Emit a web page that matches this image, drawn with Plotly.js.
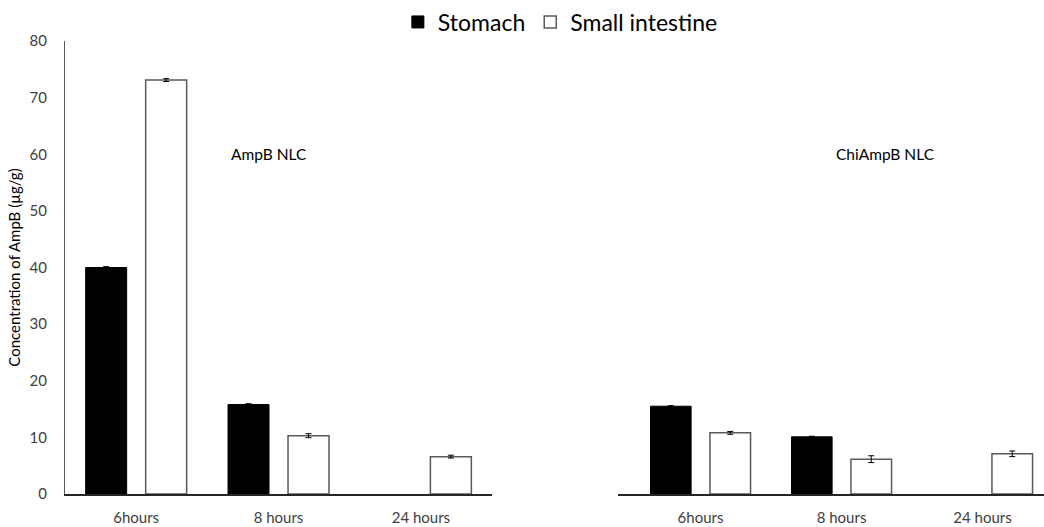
<!DOCTYPE html>
<html>
<head>
<meta charset="utf-8">
<script src="https://cdn.plot.ly/plotly-3.0.1.min.js"></script>
<style>html,body{margin:0;padding:0;background:#fff;}#chart{width:1044px;height:527px;}</style>
</head>
<body>
<div id="chart"></div>
<script>
const categories = ['6hours', '8 hours', '24 hours'];
const seriesNames = ['Stomach', 'Small intestine'];
const groupLabels = ['AmpB NLC', 'ChiAmpB NLC'];
const ampbStomach = [40.0, 15.8, null];
const ampbStomachErr = [0.15, 0.15, 0];
const ampbIntestine = [73.1, 10.3, 6.6];
const ampbIntestineErr = [0.25, 0.35, 0.25];
const chiStomach = [15.5, 10.1, null];
const chiStomachErr = [0.1, 0.1, 0];
const chiIntestine = [10.8, 6.15, 7.1];
const chiIntestineErr = [0.25, 0.6, 0.5];
const yTicks = [0, 10, 20, 30, 40, 50, 60, 70, 80];

const FONT = 'Lato, "Noto Sans", sans-serif';
const stomachStyle = {color: '#000000', line: {color: '#000000', width: 1}};
const intestineStyle = {color: '#ffffff', line: {color: '#595959', width: 1.5}};
const errStyle = {type: 'data', visible: true, color: '#000000', thickness: 1, width: 3};

function bar(name, y, err, marker, xa, showlegend) {
  return {
    type: 'bar', name: name, x: categories, y: y,
    error_y: Object.assign({array: err}, errStyle),
    marker: marker, xaxis: xa, yaxis: 'y',
    showlegend: showlegend, legendgroup: name, hoverinfo: 'x+y+name'
  };
}

const data = [
  bar(seriesNames[0], ampbStomach, ampbStomachErr, stomachStyle, 'x', true),
  bar(seriesNames[1], ampbIntestine, ampbIntestineErr, intestineStyle, 'x', true),
  bar(seriesNames[0], chiStomach, chiStomachErr, stomachStyle, 'x2', false),
  bar(seriesNames[1], chiIntestine, chiIntestineErr, intestineStyle, 'x2', false)
];

const xCommon = {
  type: 'category', showline: true, linecolor: '#262626', linewidth: 1.5,
  ticks: '', showgrid: false, zeroline: false, anchor: 'y',
  tickfont: {family: FONT, size: 15, color: '#404040'}, ticklabelstandoff: 9,
  fixedrange: true
};

const layout = {
  width: 1044, height: 527,
  margin: {l: 65, r: 0, t: 39, b: 33, pad: 0},
  paper_bgcolor: '#ffffff', plot_bgcolor: '#ffffff',
  font: {family: FONT, color: '#404040'},
  barmode: 'group', bargap: 0.157, bargroupgap: 0.317,
  xaxis: Object.assign({}, xCommon, {domain: [0, 0.4362], range: [-0.5, 2.5]}),
  xaxis2: Object.assign({}, xCommon, {domain: [0.5649, 1], range: [-0.585, 2.436]}),
  yaxis: {
    range: [0, 80], tickvals: yTicks, ticktext: yTicks.map(String),
    showline: true, linecolor: '#595959', linewidth: 1,
    ticks: '', showgrid: false, zeroline: false, ticklabelstandoff: 14,
    tickfont: {family: FONT, size: 15, color: '#404040'},
    title: {text: 'Concentration of AmpB (µg/g)', font: {family: FONT, size: 15, color: '#000000'}, standoff: 5},
    fixedrange: true
  },
  showlegend: true,
  legend: {
    orientation: 'h', x: 0.506, xanchor: 'center', y: 1.042, yanchor: 'middle',
    font: {family: FONT, size: 23, color: '#000000'}, itemwidth: 30,
    traceorder: 'normal', bgcolor: 'rgba(0,0,0,0)'
  },
  annotations: [
    {text: groupLabels[0], xref: 'paper', yref: 'y', x: 0.2084, y: 60, showarrow: false,
     font: {family: FONT, size: 15.5, color: '#000000'}, xanchor: 'center', yanchor: 'middle'},
    {text: groupLabels[1], xref: 'paper', yref: 'y', x: 0.8386, y: 60, showarrow: false,
     font: {family: FONT, size: 15.5, color: '#000000'}, xanchor: 'center', yanchor: 'middle'}
  ]
};

Plotly.newPlot('chart', data, layout, {staticPlot: true, displayModeBar: false});
</script>
</body>
</html>
